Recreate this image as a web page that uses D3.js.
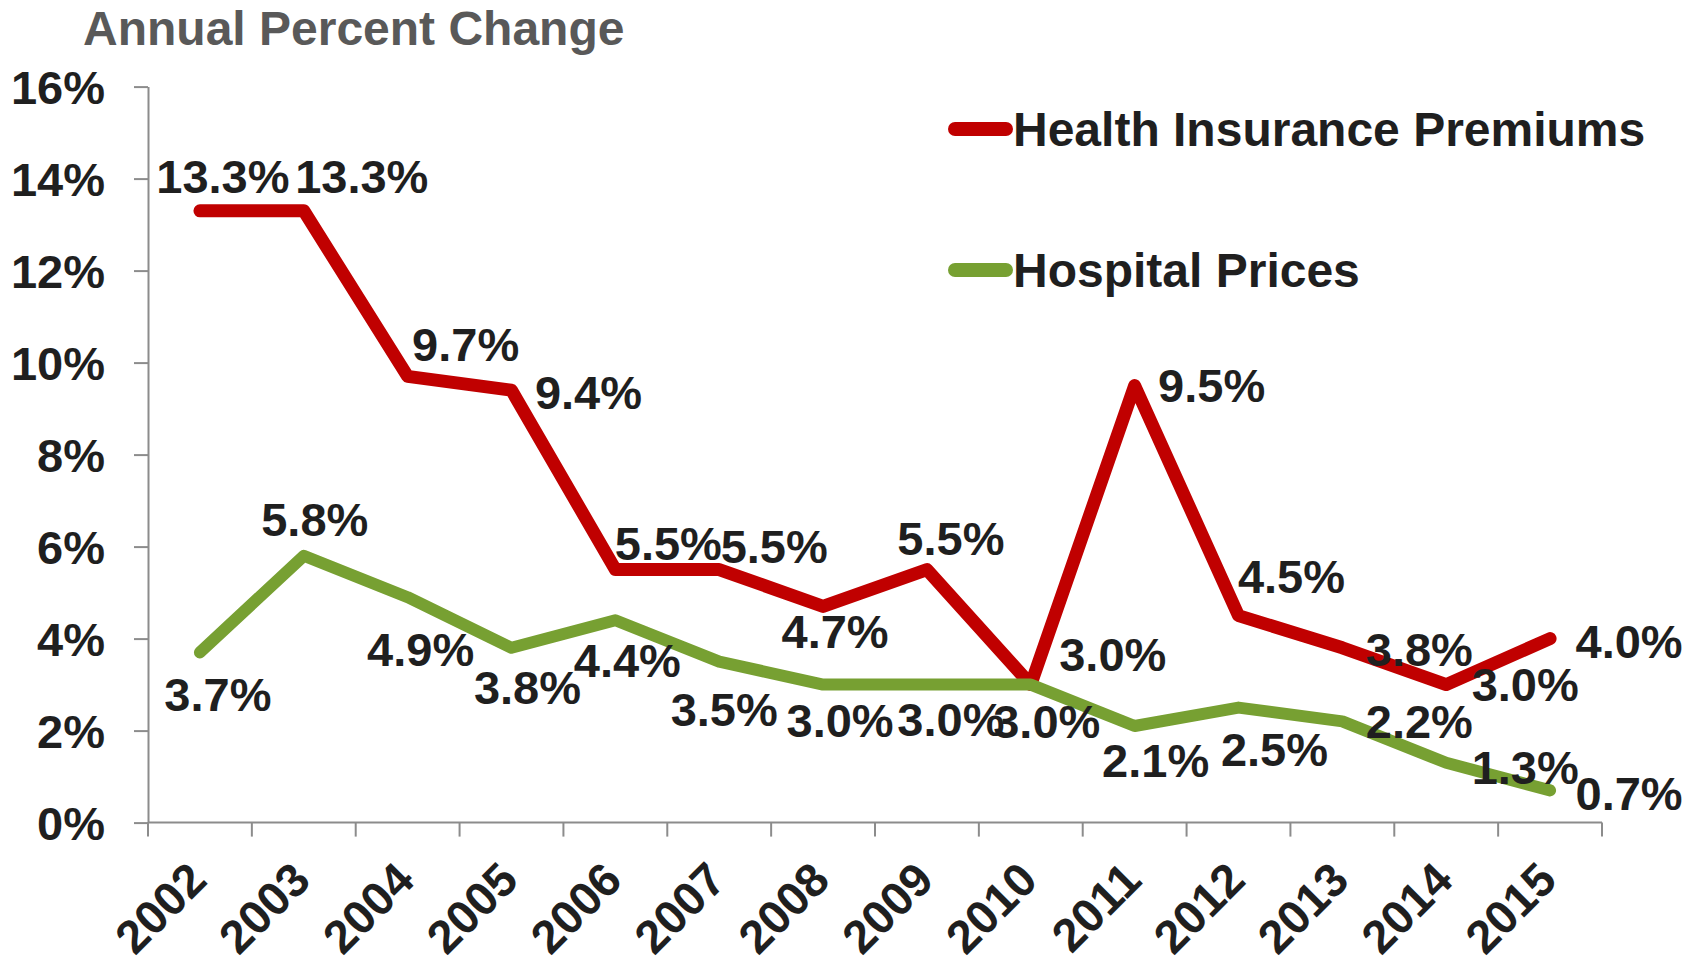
<!DOCTYPE html>
<html>
<head>
<meta charset="utf-8">
<script src="https://cdn.jsdelivr.net/npm/d3@7"></script>
<style>
  body { margin: 0; background: #fff; }
  text { font-family: "Liberation Sans", Arial, sans-serif; font-weight: bold; }
</style>
</head>
<body>
<svg id="chart" width="1697" height="957"></svg>
<script>
// chart values
const years = ["2002", "2003", "2004", "2005", "2006", "2007", "2008",
               "2009", "2010", "2011", "2012", "2013", "2014", "2015"];
const premiums = [13.3, 13.3, 9.7, 9.4, 5.5, 5.5, 4.7, 5.5, 3.0, 9.5, 4.5, 3.8, 3.0, 4.0];
const hospital = [3.7, 5.8, 4.9, 3.8, 4.4, 3.5, 3.0, 3.0, 3.0, 2.1, 2.5, 2.2, 1.3, 0.7];
const yTicks = [0, 2, 4, 6, 8, 10, 12, 14, 16];

// where each value label sits relative to its point (dx, dy in px)
const premiumLabelOffsets = [[23, -34], [58, -34], [58, -32], [77, 2], [53, -26], [55, -23], [12, 25],
                             [24, -31], [82, -30], [77, 0], [53, -39], [77, 2], [79, 0], [79, 3]];
const hospitalLabelOffsets = [[18, 42], [11, -36], [13, 52], [16, 40], [12, 40], [5, 48], [17, 36],
                              [24, 35], [16, 37], [21, 35], [36, 42], [77, 0], [79, 5], [79, 3]];

const red = "#c00000";
const green = "#77a032";
const axisGray = "#8c8c8c";
const ink = "#1f1f1f";

const svg = d3.select("#chart");

const x = d3.scaleBand()
    .domain(years)
    .range([148, 1602]);
const y = d3.scaleLinear()
    .domain([0, 16])
    .range([822.6, 86.6]);

const cx = d => x(d) + x.bandwidth() / 2;

//title
svg.append("text")
    .attr("x", 83)
    .attr("y", 45)
    .attr("font-size", 48)
    .attr("fill", "#595959")
    .text("Annual Percent Change");

//y axis
const yAxis = svg.append("g")
    .attr("transform", "translate(148,0)")
    .call(d3.axisLeft(y)
        .tickValues(yTicks)
        .tickFormat(d => d + "%")
        .tickSize(14)
        .tickPadding(29)
        .tickSizeOuter(0));
yAxis.selectAll("path, line")
    .attr("stroke", axisGray)
    .attr("stroke-width", 2);
yAxis.selectAll("text")
    .attr("font-size", 47)
    .attr("font-family", "Liberation Sans, Arial, sans-serif")
    .attr("font-weight", "bold")
    .attr("fill", ink)
    .attr("dy", "0.35em");

//x axis line and ticks between the categories
svg.append("line")
    .attr("x1", x.range()[0])
    .attr("x2", x.range()[1])
    .attr("y1", y(0))
    .attr("y2", y(0))
    .attr("stroke", axisGray)
    .attr("stroke-width", 2);
svg.selectAll(".x-tick")
    .data(years.map(d => x(d)).concat([x.range()[1]]))
    .enter()
    .append("line")
    .attr("class", "x-tick")
    .attr("x1", d => d)
    .attr("x2", d => d)
    .attr("y1", y(0))
    .attr("y2", y(0) + 14)
    .attr("stroke", axisGray)
    .attr("stroke-width", 2);

//rotated year labels
svg.selectAll(".x-label")
    .data(years)
    .enter()
    .append("text")
    .attr("class", "x-label")
    .attr("text-anchor", "end")
    .attr("font-size", 47)
    .attr("fill", ink)
    .attr("transform", d => "translate(" + (cx(d) + 9) + "," + (y(0) + 60) + ") rotate(-45)")
    .text(d => d);

//lines
const line = d3.line()
    .x((d, i) => cx(years[i]))
    .y(d => y(d));

svg.append("path")
    .datum(premiums)
    .attr("d", line)
    .attr("fill", "none")
    .attr("stroke", red)
    .attr("stroke-width", 13)
    .attr("stroke-linecap", "round")
    .attr("stroke-linejoin", "round");

svg.append("path")
    .datum(hospital)
    .attr("d", line)
    .attr("fill", "none")
    .attr("stroke", green)
    .attr("stroke-width", 12)
    .attr("stroke-linecap", "round")
    .attr("stroke-linejoin", "round");

//value labels
function drawLabels(values, offsets, cls) {
    svg.selectAll("." + cls)
        .data(values)
        .enter()
        .append("text")
        .attr("class", cls)
        .attr("text-anchor", "middle")
        .attr("dy", "0.35em")
        .attr("font-size", 47)
        .attr("fill", ink)
        .attr("x", (d, i) => cx(years[i]) + offsets[i][0])
        .attr("y", (d, i) => y(d) + offsets[i][1])
        .text(d => d.toFixed(1) + "%");
}
drawLabels(premiums, premiumLabelOffsets, "premium-label");
drawLabels(hospital, hospitalLabelOffsets, "hospital-label");

//legend
const legend = [
    { name: "Health Insurance Premiums", color: red, y: 129 },
    { name: "Hospital Prices", color: green, y: 270 }
];
const legendGroup = svg.selectAll(".legend")
    .data(legend)
    .enter()
    .append("g")
    .attr("class", "legend");
legendGroup.append("line")
    .attr("x1", 955)
    .attr("x2", 1006)
    .attr("y1", d => d.y)
    .attr("y2", d => d.y)
    .attr("stroke", d => d.color)
    .attr("stroke-width", 14)
    .attr("stroke-linecap", "round");
legendGroup.append("text")
    .attr("x", 1013)
    .attr("y", d => d.y)
    .attr("dy", "0.35em")
    .attr("font-size", 48)
    .attr("fill", ink)
    .text(d => d.name);
</script>
</body>
</html>
